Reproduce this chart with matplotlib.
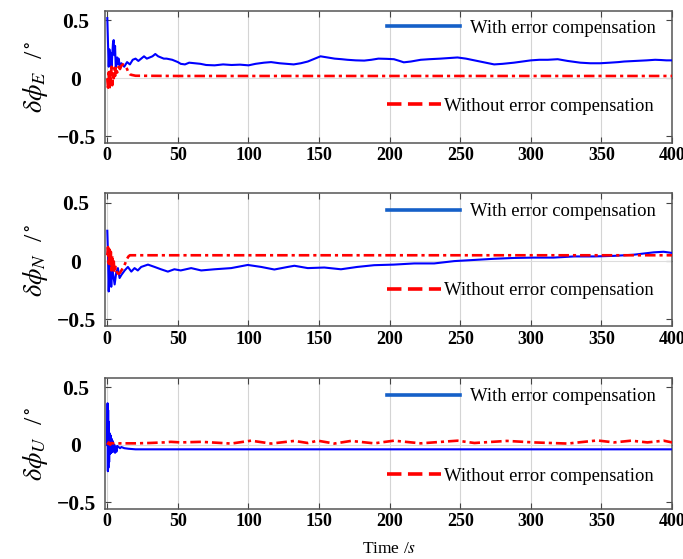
import matplotlib
matplotlib.use("Agg")
import matplotlib.pyplot as plt
from matplotlib.lines import Line2D

plt.rcParams['font.family'] = ['Liberation Serif', 'DejaVu Serif']
plt.rcParams['mathtext.fontset'] = 'stix'

# ---- data (time in s, error in deg) ----
t_e_blue = [0, 0.5, 1, 1.5, 2, 2.5, 3, 3.5, 4, 4.5, 5, 5.5, 6, 6.5, 7, 7.5, 8, 9, 10, 12, 14,
            16, 18, 20, 22, 24, 26, 28, 30, 32, 34, 36, 38, 40, 42, 44, 46, 48, 50, 52, 55,
            58, 62, 66, 70, 76, 82, 88, 94, 100, 105, 111, 116, 122, 127, 132, 137, 142, 147,
            151, 156, 161, 166, 170, 176, 182, 187, 192, 198, 203, 207, 210, 215, 222, 228,
            236, 242, 248, 254, 260, 266, 270, 274, 280, 288, 294, 300, 306, 312, 319, 326,
            335, 342, 349, 356, 362, 366, 374, 382, 388, 392, 396, 400]
e_blue = [0.52, 0.30, 0.10, 0.25, 0.12, 0.22, 0.08, 0.20, 0.30, 0.33, 0.20, 0.28, 0.08, 0.15,
          0.18, 0.12, 0.17, 0.10, 0.13, 0.10, 0.14, 0.12, 0.16, 0.17, 0.15, 0.17, 0.19, 0.17,
          0.18, 0.19, 0.21, 0.19, 0.18, 0.17, 0.17, 0.165, 0.16, 0.15, 0.14, 0.125, 0.12,
          0.135, 0.13, 0.125, 0.115, 0.112, 0.12, 0.115, 0.118, 0.112, 0.125, 0.135, 0.14,
          0.13, 0.125, 0.12, 0.13, 0.145, 0.17, 0.19, 0.18, 0.17, 0.165, 0.16, 0.155, 0.153,
          0.16, 0.17, 0.168, 0.165, 0.15, 0.138, 0.145, 0.16, 0.165, 0.17, 0.175, 0.18, 0.17,
          0.155, 0.14, 0.13, 0.12, 0.125, 0.135, 0.145, 0.155, 0.16, 0.16, 0.165, 0.15,
          0.135, 0.13, 0.13, 0.135, 0.14, 0.145, 0.15, 0.155, 0.16, 0.158, 0.155, 0.155]

t_e_red = [0, 0.5, 1, 1.5, 2, 2.5, 3, 3.5, 4, 4.5, 5, 5.5, 6, 7, 8, 9, 10, 11, 12, 13, 14, 15,
           16, 17, 20, 50, 100, 150, 200, 250, 300, 350, 400]
e_red = [0.0, -0.08, 0.05, -0.10, 0.08, -0.05, 0.10, -0.06, 0.06, 0.0, 0.09, 0.02, 0.10, 0.05,
         0.10, 0.08, 0.11, 0.12, 0.115, 0.10, 0.08, 0.05, 0.035, 0.03, 0.022, 0.02, 0.02, 0.02,
         0.02, 0.02, 0.02, 0.02, 0.02]

t_n_blue = [0, 0.5, 1, 1.5, 2, 2.8, 3.5, 4.2, 5.2, 6.3, 7.5, 8.7, 9.9, 12.3, 14.6, 17, 19.3,
            21.6, 24, 28.8, 33.5, 38, 42.9, 47.5, 52, 59.4, 66.5, 76, 87.7, 99.5, 109, 118.3,
            127.8, 132.5, 142, 153.7, 165.5, 177, 189, 203, 217.4, 231.5, 245.7, 260, 274, 288,
            302, 316, 330.6, 345, 359, 373, 387, 394, 400]
n_blue = [0.26, 0.05, -0.26, -0.05, 0.0, -0.22, -0.06, -0.12, -0.20, -0.10, -0.06, -0.145,
          -0.12, -0.08, -0.05, -0.09, -0.06, -0.08, -0.05, -0.03, -0.05, -0.07, -0.09, -0.07,
          -0.08, -0.06, -0.08, -0.07, -0.06, -0.033, -0.05, -0.072, -0.05, -0.04, -0.06, -0.055,
          -0.07, -0.05, -0.035, -0.03, -0.02, -0.02, 0.0, 0.01, 0.02, 0.027, 0.03, 0.03, 0.04,
          0.04, 0.045, 0.055, 0.075, 0.08, 0.07]

t_n_red = [0, 0.5, 1, 1.5, 2, 2.5, 3, 3.5, 4, 4.5, 5, 6, 7, 8, 9, 10, 11, 12, 13, 14, 15, 16, 18,
           50, 100, 200, 300, 400]
n_red = [0.05, 0.12, -0.02, 0.10, -0.05, 0.08, -0.08, 0.05, -0.06, 0.02, -0.10, -0.05, -0.10,
         -0.11, -0.10, -0.08, -0.06, -0.04, -0.01, 0.02, 0.04, 0.05, 0.05, 0.05, 0.05, 0.05,
         0.05, 0.05]

t_u_blue = [0, 0.2, 0.4, 0.6, 0.8, 1.0, 1.3, 1.6, 2.0, 2.4, 2.8, 3.2, 3.6, 4.0, 4.5, 5, 5.5, 6,
            6.5, 7, 8, 9, 10, 12, 15, 20, 50, 100, 150, 200, 250, 300, 350, 400]
u_blue = [0.0, 0.36, -0.23, 0.30, -0.20, 0.20, -0.15, 0.10, -0.08, 0.08, -0.07, 0.05, -0.06,
          0.03, -0.06, 0.0, -0.07, -0.02, -0.06, -0.01, -0.02, -0.03, -0.02, -0.03, -0.035,
          -0.04, -0.04, -0.04, -0.04, -0.04, -0.04, -0.04, -0.04, -0.04]

t_u_red = [0, 1, 2, 3, 5, 10, 20, 30, 40, 45, 52, 66.5, 87.7, 101.8, 116, 132.5, 142, 149,
           160.8, 172.6, 189, 203, 222, 248, 260, 283, 302, 326, 347, 359, 371, 382.5, 394, 400]
u_red = [0.0, 0.02, 0.0, 0.015, 0.01, 0.012, 0.012, 0.015, 0.02, 0.025, 0.02, 0.025, 0.01,
         0.035, 0.01, 0.033, 0.015, 0.035, 0.01, 0.033, 0.012, 0.035, 0.012, 0.035, 0.015,
         0.033, 0.02, 0.01, 0.037, 0.02, 0.035, 0.02, 0.035, 0.02]

x_ticks = [0, 50, 100, 150, 200, 250, 300, 350, 400]
y_ticks = [-0.5, 0, 0.5]
y_labels = [r'$\delta\phi_E$  /$^\circ$', r'$\delta\phi_N$  /$^\circ$', r'$\delta\phi_U$  /$^\circ$']
lbl_with = 'With error compensation'
lbl_without = 'Without error compensation'

panels = [(t_e_blue, e_blue, t_e_red, e_red),
          (t_n_blue, n_blue, t_n_red, n_red),
          (t_u_blue, u_blue, t_u_red, u_red)]

fig = plt.figure(figsize=(6.83, 5.59), dpi=100)
# axes boxes [left, bottom, width, height] in figure fraction
boxes = [[0.154, 0.744, 0.830, 0.236],
         [0.154, 0.416, 0.830, 0.238],
         [0.154, 0.089, 0.830, 0.235]]
leg_y = [(0.87, 0.28), (0.864, 0.27), (0.857, 0.25)]

for i, (tb, yb, tr, yr) in enumerate(panels):
    ax = fig.add_axes(boxes[i])
    ax.plot(tb, yb, color='blue', lw=1.5, zorder=3)
    ax.plot(tr, yr, color='red', lw=1.9, dashes=[4, 1.5, 1.2, 1.5], zorder=4)
    ax.set_xlim(-1.5, 400)
    ax.set_ylim(-0.56, 0.58)
    ax.set_xticks(x_ticks)
    ax.set_yticks(y_ticks)
    ax.set_yticklabels(['\u22120.5', '0', '0.5'])
    ax.grid(True, axis='x', color='#d4d4d4', lw=0.8, zorder=0)
    ax.axhline(0, color='#dddddd', lw=0.8, zorder=1)
    ax.set_axisbelow(True)
    ax.tick_params(direction='in', top=True, right=True, length=4, width=0.8, color='#444444')
    ax.tick_params(axis='x', labelsize=13, pad=3)
    ax.tick_params(axis='y', labelsize=15.5, pad=21)
    for lab in ax.get_xticklabels() + ax.get_yticklabels():
        lab.set_fontweight('bold')
    for lab in ax.get_yticklabels():
        lab.set_horizontalalignment('center')
    for sp in ax.spines.values():
        sp.set_color('#555555')
        sp.set_linewidth(1.1)
    ax.set_ylabel(y_labels[i], fontsize=19)
    ax.yaxis.set_label_coords(-0.097, 0.5)

    h1 = Line2D([], [], color='#1560c8', lw=2.6)
    h2 = Line2D([], [], color='red', lw=2.6, dashes=[4, 1.8])
    leg1 = ax.legend(handles=[h1], labels=[lbl_with], loc='center left',
                     bbox_to_anchor=(0.497, leg_y[i][0]), frameon=False, borderpad=0,
                     borderaxespad=0, handlelength=3.9, handletextpad=0.55, fontsize=13.4)
    ax.add_artist(leg1)
    ax.legend(handles=[h2], labels=[lbl_without], loc='center left',
              bbox_to_anchor=(0.497, leg_y[i][1]), frameon=False, borderpad=0,
              borderaxespad=0, handlelength=2.9, handletextpad=0.15, fontsize=13.4)

    if i == 2:
        ax.set_xlabel(r'Time /$s$', fontsize=12.5)
        ax.xaxis.set_label_coords(0.5, -0.245)

fig.savefig('out.png', dpi=100)
